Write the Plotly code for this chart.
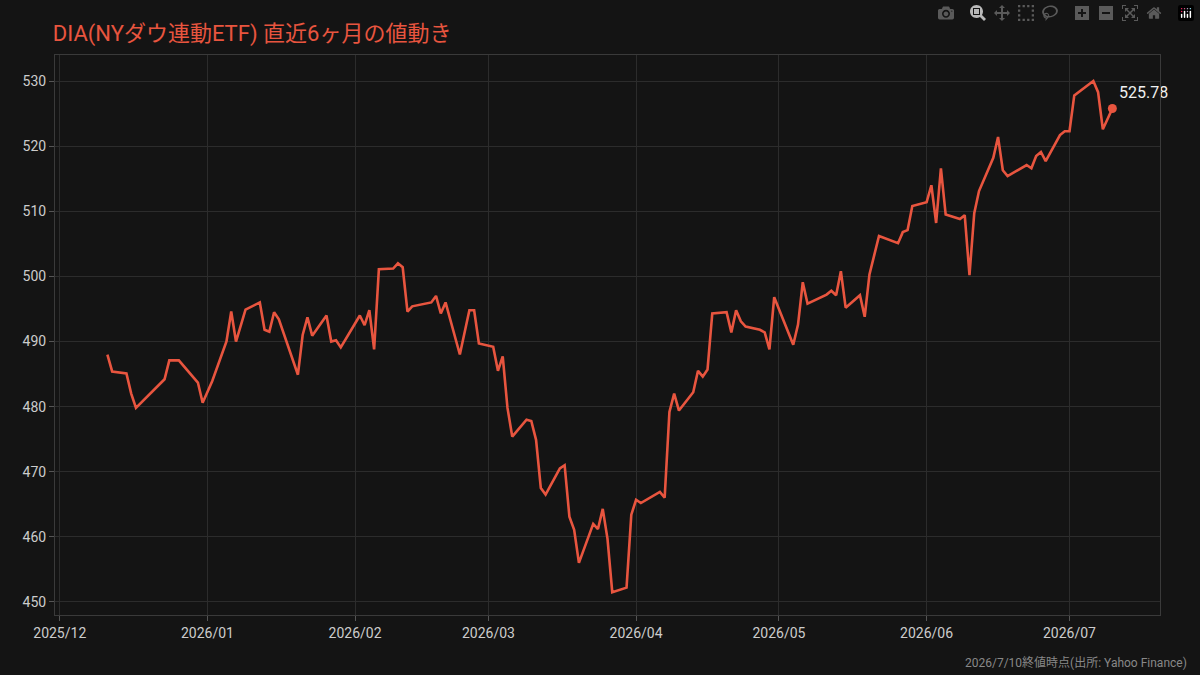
import plotly.graph_objects as go

dates = [
    "2025-12-11", "2025-12-12", "2025-12-15", "2025-12-16", "2025-12-17", "2025-12-23", "2025-12-24",
    "2025-12-26", "2025-12-30", "2025-12-31", "2026-01-02", "2026-01-05", "2026-01-06", "2026-01-07",
    "2026-01-09", "2026-01-12", "2026-01-13", "2026-01-14", "2026-01-15", "2026-01-16", "2026-01-20",
    "2026-01-21", "2026-01-22", "2026-01-23", "2026-01-26", "2026-01-27", "2026-01-28", "2026-01-29",
    "2026-02-02", "2026-02-03", "2026-02-04", "2026-02-05", "2026-02-06", "2026-02-09", "2026-02-10",
    "2026-02-11", "2026-02-12", "2026-02-13", "2026-02-17", "2026-02-18", "2026-02-19", "2026-02-20",
    "2026-02-23", "2026-02-25", "2026-02-26", "2026-02-27", "2026-03-02", "2026-03-03", "2026-03-04",
    "2026-03-05", "2026-03-06", "2026-03-09", "2026-03-10", "2026-03-11", "2026-03-12", "2026-03-13",
    "2026-03-16", "2026-03-17", "2026-03-18", "2026-03-19", "2026-03-20", "2026-03-23", "2026-03-24",
    "2026-03-25", "2026-03-26", "2026-03-27", "2026-03-30", "2026-03-31", "2026-04-01", "2026-04-02",
    "2026-04-06", "2026-04-07", "2026-04-08", "2026-04-09", "2026-04-10", "2026-04-13", "2026-04-14",
    "2026-04-15", "2026-04-16", "2026-04-17", "2026-04-20", "2026-04-21", "2026-04-22", "2026-04-23",
    "2026-04-24", "2026-04-27", "2026-04-28", "2026-04-29", "2026-04-30", "2026-05-04", "2026-05-05",
    "2026-05-06", "2026-05-07", "2026-05-11", "2026-05-12", "2026-05-13", "2026-05-14", "2026-05-15",
    "2026-05-18", "2026-05-19", "2026-05-20", "2026-05-22", "2026-05-26", "2026-05-27", "2026-05-28",
    "2026-05-29", "2026-06-01", "2026-06-02", "2026-06-03", "2026-06-04", "2026-06-05", "2026-06-08",
    "2026-06-09", "2026-06-10", "2026-06-11", "2026-06-12", "2026-06-15", "2026-06-16", "2026-06-17",
    "2026-06-18", "2026-06-22", "2026-06-23", "2026-06-24", "2026-06-25", "2026-06-26", "2026-06-29",
    "2026-06-30", "2026-07-01", "2026-07-02", "2026-07-06", "2026-07-07", "2026-07-08", "2026-07-10",
]
closes = [
    488.0, 485.4, 485.1, 482.0, 479.8, 484.2, 487.1,
    487.1, 483.7, 480.6, 483.9, 490.0, 494.6, 490.0,
    494.9, 496.0, 491.8, 491.5, 494.5, 493.4, 484.9,
    491.0, 493.7, 490.9, 494.0, 490.0, 490.2, 489.1,
    494.0, 492.5, 494.8, 488.8, 501.1, 501.2, 502.0,
    501.4, 494.6, 495.4, 496.0, 497.0, 494.3, 496.0,
    488.0, 494.8, 494.8, 489.7, 489.2, 485.5, 487.7,
    479.8, 475.4, 478.0, 477.8, 474.9, 467.5, 466.5,
    470.5, 471.0, 463.1, 461.1, 456.0, 462.0, 461.2,
    464.3, 459.7, 451.5, 452.2, 463.4, 465.7, 465.2,
    466.9, 466.0, 479.2, 482.0, 479.4, 482.2, 485.5,
    484.6, 485.7, 494.3, 494.5, 491.4, 494.8, 493.1,
    492.3, 491.8, 491.4, 488.8, 496.8, 489.5, 492.6,
    499.1, 495.8, 497.2, 497.8, 497.1, 500.8, 495.2,
    497.1, 493.8, 500.3, 506.2, 505.1, 506.8, 507.1,
    510.8, 511.4, 514.0, 508.2, 516.6, 509.5, 508.8,
    509.4, 500.2, 509.7, 513.1, 518.2, 521.4, 516.3,
    515.4, 517.1, 516.6, 518.5, 519.1, 517.7, 521.7,
    522.3, 522.3, 527.8, 530.0, 528.3, 522.6, 525.78,
]
tick_vals = ["2025-12-01", "2026-01-01", "2026-02-01", "2026-03-01",
             "2026-04-01", "2026-05-01", "2026-06-01", "2026-07-01"]
tick_text = ["2025/12", "2026/01", "2026/02", "2026/03",
             "2026/04", "2026/05", "2026/06", "2026/07"]

RED = "#e8553f"
fig = go.Figure()
fig.add_trace(go.Scatter(x=dates, y=closes, mode="lines",
                         line=dict(color=RED, width=2.6), hoverinfo="skip"))
fig.add_trace(go.Scatter(x=[dates[-1]], y=[closes[-1]], mode="markers+text",
                         marker=dict(color=RED, size=9), cliponaxis=False,
                         text=[f"{closes[-1]:.2f}"], textposition="top right",
                         textfont=dict(color="#f0f0f0", size=16)))

fig.update_layout(
    width=1200, height=675, showlegend=False,
    paper_bgcolor="#141414", plot_bgcolor="#141414",
    font=dict(family="Roboto, Noto Sans CJK JP", color="#cccccc", size=14),
    title=dict(text="DIA(NYダウ連動ETF) 直近6ヶ月の値動き", x=0.044, y=0.962,
               font=dict(color=RED, size=22, family="Roboto, Noto Sans CJK JP")),
    margin=dict(l=55, r=40, t=55, b=60),
    xaxis=dict(range=["2025-11-30", "2026-07-20"], tickvals=tick_vals, ticktext=tick_text,
               showgrid=True, gridcolor="#2c2c2c", showline=True, linecolor="#3a3a3a",
               mirror=True, ticks="outside", tickcolor="#555", zeroline=False),
    yaxis=dict(range=[448, 534], dtick=10, showgrid=True, gridcolor="#2c2c2c",
               showline=True, linecolor="#3a3a3a", mirror=True, ticks="outside",
               tickcolor="#555", zeroline=False),
    annotations=[dict(text="2026/7/10終値時点(出所: Yahoo Finance)", xref="paper", yref="paper",
                      x=1.026, y=-0.068, xanchor="right", yanchor="top", showarrow=False,
                      font=dict(color="#888888", size=12))],
)
fig.write_html("out.html", post_script="document.body.style.margin='0';")
